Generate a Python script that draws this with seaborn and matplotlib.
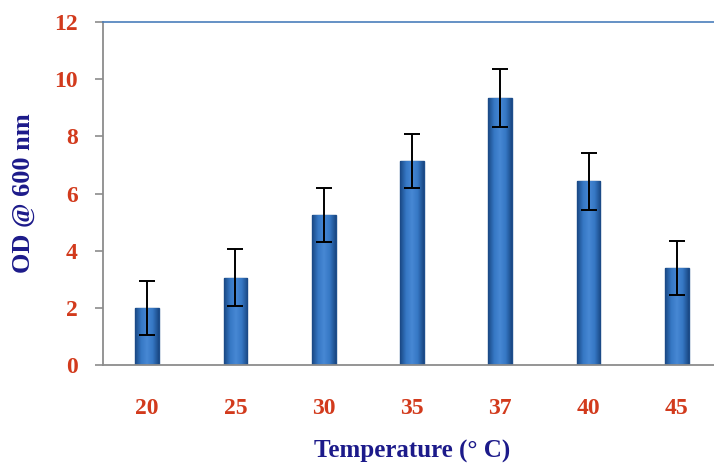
import numpy as np
import pandas as pd
import seaborn as sns
import matplotlib.pyplot as plt
from matplotlib.colors import LinearSegmentedColormap

# values
temps = ['20', '25', '30', '35', '37', '40', '45']
od600 = [2.0, 3.05, 5.24, 7.14, 9.34, 6.42, 3.40]
od_err = [0.95, 1.0, 0.95, 0.95, 1.0, 0.98, 0.95]

df = pd.DataFrame({'temp': temps, 'od': od600, 'err': od_err})

sns.set_theme(style='white')
plt.rcParams['font.family'] = ['Liberation Serif', 'DejaVu Serif']

fig = plt.figure(figsize=(7.14, 4.66), dpi=100)
ax = fig.add_axes([103 / 714, 1 - 365 / 466, 618 / 714, 343 / 466])

sns.barplot(data=df, x='temp', y='od', color='#2f6db5', width=0.27,
            edgecolor='#1d4e8c', linewidth=1.0, saturation=1, ax=ax)

# shaded look of the bars: dark edges, lighter middle
shade = LinearSegmentedColormap.from_list('bar', ['#1a4884', '#3577c4', '#4788d4', '#3577c4', '#1a4884'])
grad = np.linspace(0, 1, 64).reshape(1, -1)
for p in ax.patches:
    x0, y0 = p.get_x(), p.get_y()
    im = ax.imshow(grad, cmap=shade, aspect='auto', zorder=p.get_zorder() + 0.1,
                   extent=[x0, x0 + p.get_width(), y0, y0 + p.get_height()])
    im.set_clip_path(p)

ax.errorbar(np.arange(len(temps)), df['od'], yerr=df['err'], fmt='none',
            ecolor='black', elinewidth=1.4, capsize=6, capthick=1.4, zorder=5)

ax.set_xlim(-0.5, 6.5)
ax.set_ylim(0, 12)
ax.set_yticks(range(0, 13, 2))

for side in ['left', 'bottom']:
    ax.spines[side].set_color('#8c8c8c')
    ax.spines[side].set_linewidth(1.3)
ax.spines['top'].set_color('#4a7ebb')
ax.spines['top'].set_linewidth(1.2)
ax.spines['right'].set_visible(False)

ax.tick_params(axis='y', which='major', direction='out', length=6, width=1.2,
               color='#8c8c8c', left=True, pad=12, labelsize=17, labelcolor='#d23a1c')
ax.tick_params(axis='x', bottom=False, pad=18, labelsize=17, labelcolor='#d23a1c')
for lab in ax.get_xticklabels() + ax.get_yticklabels():
    lab.set_fontweight('bold')

ax.set_xlabel('Temperature (° C)', fontsize=18, fontweight='bold', color='#1c1a8a', labelpad=15)
ax.set_ylabel('OD @ 600 nm', fontsize=19, fontweight='bold', color='#1c1a8a', labelpad=14)

fig.savefig('out.png', dpi=100)
